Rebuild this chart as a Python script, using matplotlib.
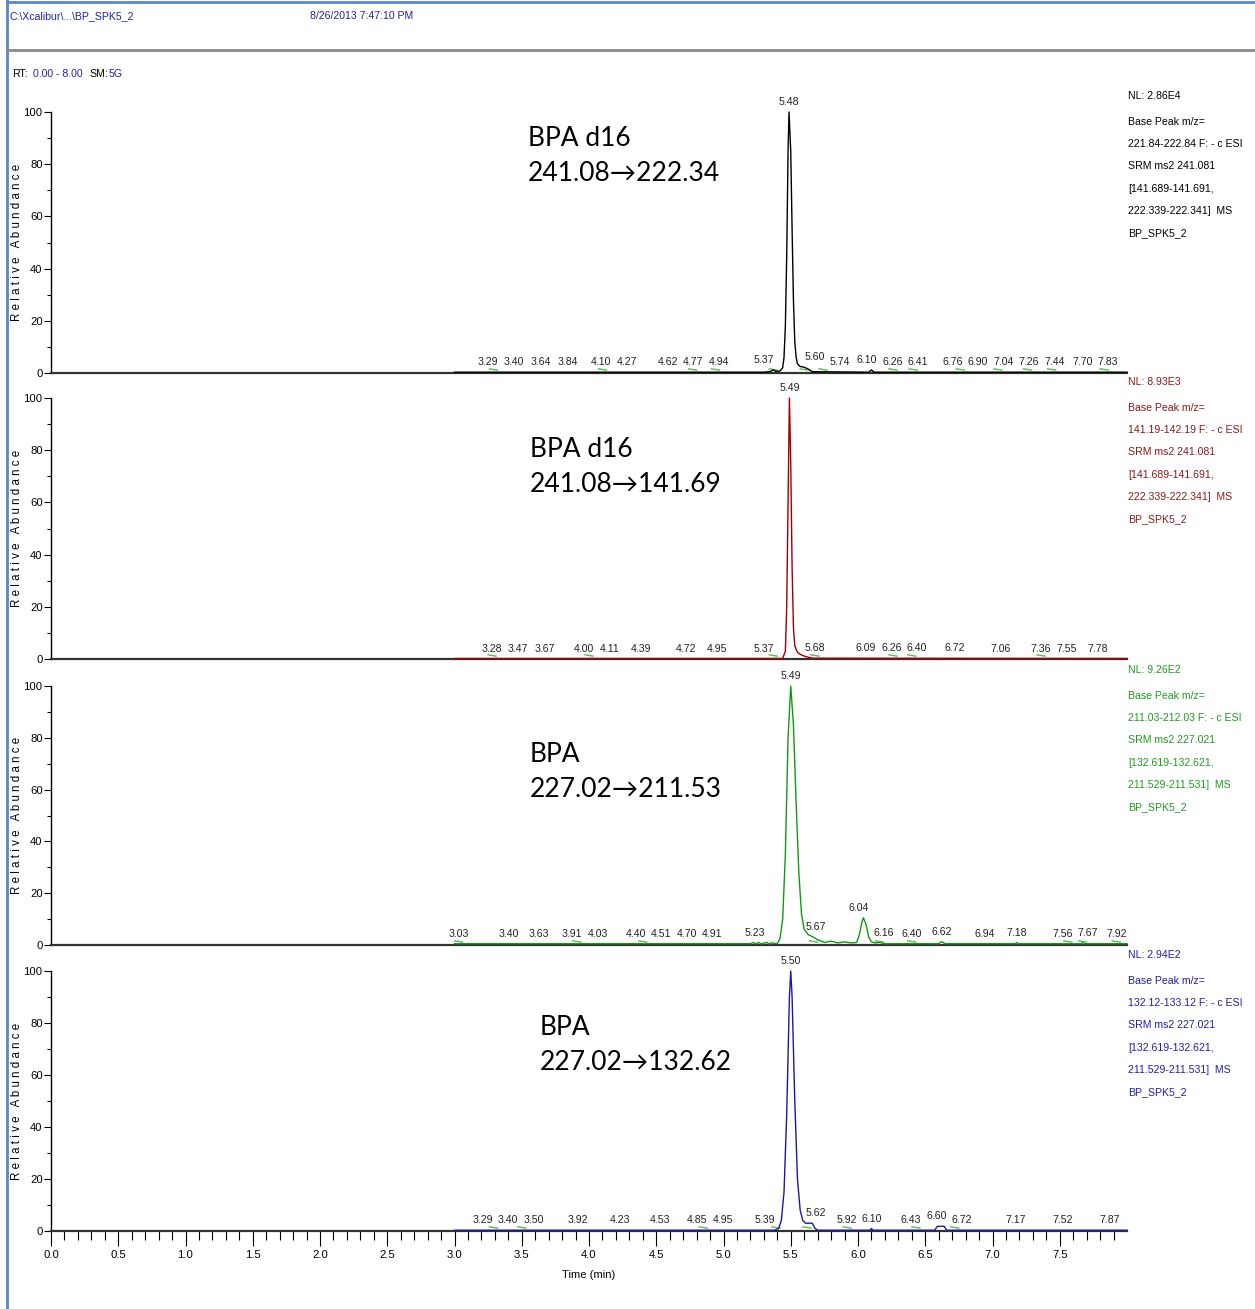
import numpy as np
import matplotlib
matplotlib.use("Agg")
import matplotlib.pyplot as plt
from matplotlib.lines import Line2D

# ---- data ----
titles = ["BPA d16\n241.08\u2192222.34", "BPA d16\n241.08\u2192141.69",
          "BPA\n227.02\u2192211.53", "BPA\n227.02\u2192132.62"]

nl_values = ["2.86E4", "8.93E3", "9.26E2", "2.94E2"]
mz_ranges = ["221.84-222.84", "141.19-142.19", "211.03-212.03", "132.12-133.12"]
srm_parent = ["241.081", "241.081", "227.021", "227.021"]
srm_windows = [["[141.689-141.691,", "222.339-222.341]"],
               ["[141.689-141.691,", "222.339-222.341]"],
               ["[132.619-132.621,", "211.529-211.531]"],
               ["[132.619-132.621,", "211.529-211.531]"]]

# trace points (time, relative abundance)
t1 = [3.00, 5.30, 5.35, 5.37, 5.39, 5.42, 5.44, 5.45, 5.46, 5.47, 5.48, 5.487, 5.50, 5.51,
      5.52, 5.53, 5.54, 5.55, 5.57, 5.60, 5.63, 5.66, 6.08, 6.10, 6.12, 8.00]
y1 = [0.3, 0.3, 0.6, 1.2, 0.6, 0.8, 2.0, 6.0, 18, 45, 85, 100, 85, 55,
      28, 12, 6.0, 3.5, 2.5, 2.2, 1.5, 0.5, 0.3, 1.2, 0.3, 0.3]

t2 = [3.00, 5.44, 5.46, 5.47, 5.48, 5.49, 5.50, 5.51, 5.52, 5.53, 5.55, 5.58, 5.62, 5.66, 8.00]
y2 = [0.2, 0.2, 3.0, 20, 60, 100, 75, 35, 12, 5.0, 2.5, 1.5, 0.8, 0.3, 0.2]

t3 = [3.00, 5.20, 5.22, 5.24, 5.26, 5.28, 5.32, 5.34, 5.36, 5.40, 5.42, 5.44, 5.46, 5.48, 5.50,
      5.52, 5.54, 5.56, 5.58, 5.60, 5.63, 5.67, 5.70, 5.75, 5.80, 5.85, 5.90, 5.95, 5.99,
      6.01, 6.03, 6.04, 6.06, 6.08, 6.10, 6.13, 6.16, 6.20, 6.60, 6.62, 6.65, 7.17, 7.18,
      7.19, 7.66, 7.67, 7.68, 8.00]
y3 = [0.5, 0.5, 1.0, 0.4, 1.0, 0.4, 1.0, 0.4, 0.8, 0.5, 2.5, 10, 35, 80, 100,
      85, 55, 28, 12, 6.0, 4.0, 3.0, 2.0, 1.0, 1.5, 0.8, 1.2, 0.8, 1.0,
      4.0, 9.0, 10.5, 8.0, 3.0, 1.2, 0.8, 1.0, 0.5, 0.5, 1.3, 0.5, 0.5, 1.0,
      0.5, 0.5, 1.0, 0.5, 0.5]

t4 = [3.00, 5.38, 5.41, 5.43, 5.45, 5.47, 5.49, 5.50, 5.51, 5.53, 5.55, 5.57, 5.59, 5.61,
      5.66, 5.68, 5.70, 6.09, 6.10, 6.11, 6.57, 6.59, 6.64, 6.66, 8.00]
y4 = [0.3, 0.3, 1.0, 4.0, 15, 45, 90, 100, 90, 50, 20, 8.0, 4.0, 3.0,
      3.0, 1.0, 0.3, 0.3, 1.0, 0.3, 0.3, 1.8, 1.8, 0.3, 0.3]

apex_labels = ["5.48", "5.49", "5.49", "5.50"]

peaks1 = [3.29, 3.40, 3.64, 3.84, 4.10, 4.27, 4.62, 4.77, 4.94, 5.37, 5.60, 5.74, 6.10,
          6.26, 6.41, 6.76, 6.90, 7.04, 7.26, 7.44, 7.70, 7.83]
peaks2 = [3.28, 3.47, 3.67, 4.00, 4.11, 4.39, 4.72, 4.95, 5.37, 5.68, 6.09, 6.26, 6.40,
          6.72, 7.06, 7.36, 7.55, 7.78]
peaks3 = [3.03, 3.40, 3.63, 3.91, 4.03, 4.40, 4.51, 4.70, 4.91, 5.23, 5.67, 6.04, 6.16,
          6.40, 6.62, 6.94, 7.18, 7.56, 7.67, 7.92]
peaks4 = [3.29, 3.40, 3.50, 3.92, 4.23, 4.53, 4.85, 4.95, 5.39, 5.62, 5.92, 6.10, 6.43,
          6.60, 6.72, 7.17, 7.52, 7.87]

# peaks with a green integration baseline mark
marked1 = [3.29, 4.10, 4.77, 4.94, 5.37, 5.60, 5.74, 6.26, 6.41, 6.76, 7.04, 7.26, 7.44, 7.83]
marked2 = [3.28, 4.00, 5.37, 5.68, 6.26, 6.40, 7.36]
marked3 = [3.03, 3.91, 4.40, 5.67, 6.16, 6.40, 7.56, 7.67, 7.92]
marked4 = [3.29, 3.50, 4.85, 5.39, 5.62, 5.92, 6.43, 6.72]

traces = [(t1, y1), (t2, y2), (t3, y3), (t4, y4)]
peaks = [peaks1, peaks2, peaks3, peaks4]
marks = [marked1, marked2, marked3, marked4]

trace_colors = ["black", "#a00000", "#119911", "#1a1aa0"]
text_colors = ["black", "#8b1a1a", "#229922", "#2020a0"]
NAVY = "#23239a"
SMALL = ["Liberation Sans", "DejaVu Sans"]
BIG = ["Lato", "DejaVu Sans"]
FS = 7.6


def spread_labels(xs, apex, sep):
    # push peak labels apart (and away from the main apex) like the data system does
    pos = sorted([[x, False] for x in xs] + [[apex, True]])
    for _ in range(300):
        moved = False
        for j in range(len(pos) - 1):
            d = pos[j + 1][0] - pos[j][0]
            if d < sep - 1e-6:
                gap = sep - d
                if pos[j][1]:
                    pos[j + 1][0] += gap
                elif pos[j + 1][1]:
                    pos[j][0] -= gap
                else:
                    pos[j][0] -= gap / 2
                    pos[j + 1][0] += gap / 2
                moved = True
        if not moved:
            break
    return [p[0] for p in pos if not p[1]]


W, H = 1255, 1309
fig = plt.figure(figsize=(W / 100, H / 100), dpi=100)

# frame / header
fig.add_artist(Line2D([7 / W, 7 / W], [0, 1], color="#5b87c5", lw=2))
fig.add_artist(Line2D([7 / W, 1], [1 - 1.5 / H, 1 - 1.5 / H], color="#5b87c5", lw=2))
fig.add_artist(Line2D([7 / W, 1], [1 - 50 / H, 1 - 50 / H], color="#8a8a8a", lw=2))
fig.text(9 / W, 1 - 16 / H, "C:\\Xcalibur\\...\\BP_SPK5_2", color=NAVY, fontsize=FS,
         family=SMALL, va="center")
fig.text(310 / W, 1 - 16 / H, "8/26/2013 7:47:10 PM", color=NAVY, fontsize=FS,
         family=SMALL, va="center")
fig.text(12 / W, 1 - 74 / H, "RT:", color="black", fontsize=FS, family=SMALL, va="center")
fig.text(33 / W, 1 - 74 / H, "0.00 - 8.00", color=NAVY, fontsize=FS, family=SMALL, va="center")
fig.text(89 / W, 1 - 74 / H, "SM:", color="black", fontsize=FS, family=SMALL, va="center")
fig.text(109 / W, 1 - 74 / H, "5G", color=NAVY, fontsize=FS, family=SMALL, va="center")

panel_px = [(112, 373), (398, 659), (686, 945), (971, 1231)]
title_px = [(528, 137), (530, 448), (530, 753), (540, 1026)]
x0_px, x1_px = 51, 1127
px_per_min = (x1_px - x0_px) / 8.0

for i, (top, bot) in enumerate(panel_px):
    ax = fig.add_axes([x0_px / W, 1 - bot / H, (x1_px - x0_px) / W, (bot - top) / H])
    t, y = traces[i]
    ax.plot(t, y, color=trace_colors[i], lw=1.0, clip_on=False, zorder=3)
    ax.set_xlim(0, 8)
    ax.set_ylim(0, 100)
    for s in ["top", "right"]:
        ax.spines[s].set_visible(False)
    ax.spines["left"].set_linewidth(1.0)
    ax.spines["bottom"].set_linewidth(1.6)
    ax.spines["bottom"].set_color("#333333")

    ax.set_yticks(np.arange(0, 101, 20))
    ax.set_yticks(np.arange(0, 101, 10), minor=True)
    ax.tick_params(axis="y", which="major", length=5, width=0.8, pad=1, labelsize=FS + 0.5)
    ax.tick_params(axis="y", which="minor", length=3, width=0.8)
    for lab in ax.get_yticklabels():
        lab.set_family(SMALL)

    if i < 3:
        ax.set_xticks([])
    else:
        ax.set_xticks(np.arange(0, 7.6, 0.5))
        ax.set_xticks(np.arange(0, 8.0, 0.1), minor=True)
        ax.set_xticklabels(["%.1f" % v for v in np.arange(0, 7.6, 0.5)], family=SMALL)
        ax.tick_params(axis="x", which="major", length=11, width=0.8, labelsize=FS + 0.5, pad=3)
        ax.tick_params(axis="x", which="minor", length=6.5, width=0.8)
        ax.set_xlabel("Time (min)", family=SMALL, fontsize=FS + 0.5, labelpad=7)

    # peak labels
    k = int(np.argmax(y))
    label_x = spread_labels(peaks[i], t[k], 25.5 / px_per_min)
    for rt, lx in zip(peaks[i], label_x):
        h = np.interp(rt, t, y)
        ax.annotate("%.2f" % rt, (lx, h), xytext=(0, 3.5), textcoords="offset points",
                    ha="center", va="bottom", fontsize=FS, family=SMALL, color="#222222",
                    annotation_clip=False)
    for rt in marks[i]:
        ax.plot([rt - 0.03, rt + 0.03], [1.6, 1.1], color="#5cb85c", lw=1.0, zorder=2)
    ax.annotate(apex_labels[i], (t[k], y[k]), xytext=(0, 3.5), textcoords="offset points",
                ha="center", va="bottom", fontsize=FS, family=SMALL, color="#222222",
                annotation_clip=False)

    # y label
    fig.text(17 / W, 1 - (top + bot) / 2 / H, "R e l a t i v e   A b u n d a n c e",
             rotation=90, ha="center", va="center", fontsize=8.3, family=SMALL)

    # big annotation
    tx, ty = title_px[i]
    fig.text(tx / W, 1 - (ty - 11) / H, titles[i], fontsize=19, family=BIG,
             va="top", ha="left", linespacing=1.5)

    # right-hand scan info
    c = text_colors[i]
    rx = 1128 / W
    lines = ["Base Peak m/z=", mz_ranges[i] + " F: - c ESI", "SRM ms2 " + srm_parent[i],
             srm_windows[i][0], srm_windows[i][1] + "  MS", "BP_SPK5_2"]
    fig.text(rx, 1 - (top - 16) / H, "NL: " + nl_values[i], color=c, fontsize=FS,
             family=SMALL, va="center")
    for j, ln in enumerate(lines):
        fig.text(rx, 1 - (top + 10 + 22.2 * j) / H, ln, color=c, fontsize=FS,
                 family=SMALL, va="center")

fig.savefig("out.png", dpi=100)
